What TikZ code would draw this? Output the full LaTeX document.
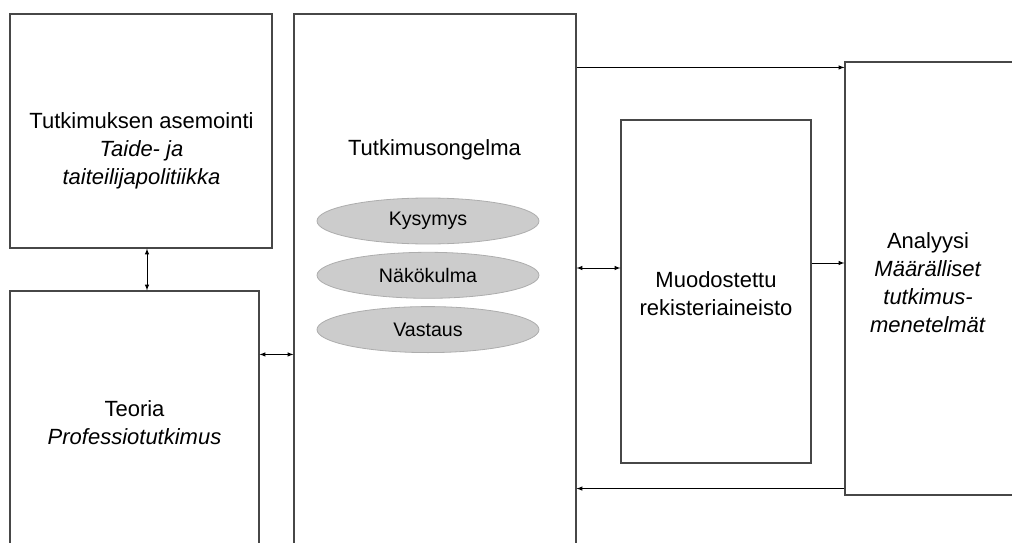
\documentclass[tikz,border=0pt]{standalone}
\usepackage{fontspec}
\setmainfont{Liberation Sans}
\usetikzlibrary{arrows}
\usetikzlibrary{positioning}
\usetikzlibrary{shapes.geometric}

\tikzset{
  laatikko/.style={draw=black!72, line width=1.1pt, inner sep=0pt},
  kohta/.style={ellipse, draw=black!32, fill=black!20, line width=0.8pt, inner sep=0pt,
    minimum width=222pt, minimum height=46pt, font=\fontsize{19.6}{22}\selectfont},
  teksti/.style={align=center, inner sep=0pt, font=\fontsize{22}{28}\selectfont},
  nuoli/.style={line width=1pt, black}
}

\begin{document}
\begin{tikzpicture}[x=1pt, y=-1pt, >=latex]
    \useasboundingbox (0,0) rectangle (1012,543);
    \clip (0,0) rectangle (1012,543);

    \node (asemointi) [laatikko, minimum width=262pt, minimum height=234pt] at (141,131) {};
    \node (teoria) [laatikko, minimum width=249pt, minimum height=279pt] at (134.5,430.5) {};
    \node (ongelma) [laatikko, minimum width=282pt, minimum height=556pt] at (435,292) {};
    \node (aineisto) [laatikko, minimum width=190pt, minimum height=343pt] at (716,291.5) {};
    \node (analyysi) [laatikko, minimum width=175pt, minimum height=433pt] at (932.5,278.5) {};

    \node (asemointiT) [teksti] at (141.5,151) {Tutkimuksen asemointi\\\textit{Taide- ja}\\\textit{taiteilijapolitiikka}};
    \node (teoriaT) [teksti] at (134.5,423) {Teoria\\\textit{Professiotutkimus}};
    \node (ongelmaT) [teksti] at (434.5,150) {Tutkimusongelma};
    \node (aineistoT) [teksti] at (716,294) {Muodostettu\\rekisteriaineisto};
    \node (analyysiT) [teksti] at (928,283) {Analyysi\\\textit{Määrälliset}\\\textit{tutkimus-}\\\textit{menetelmät}};

    \node (kysymys) [kohta] at (428,221) {Kysymys};
    \node (nakokulma) [kohta, below = 7.5pt of kysymys] {Näkökulma};
    \node (vastaus) [kohta, below = 7.5pt of nakokulma] {Vastaus};

    \draw [nuoli, <->] ([xshift=6pt]asemointi.south) -- ([xshift=6pt]asemointi.south |- teoria.north);
    \draw [nuoli, <->] ([yshift=-64pt]teoria.north east) -- ([yshift=-64pt]teoria.north east -| ongelma.west);
    \draw [nuoli, ->] ([yshift=-6pt]analyysi.north west -| ongelma.east) -- ([yshift=-6pt]analyysi.north west);
    \draw [nuoli, <->] ([yshift=23.5pt]aineisto.west -| ongelma.east) -- ([yshift=23.5pt]aineisto.west);
    \draw [nuoli, ->] ([yshift=28.5pt]aineisto.east) -- ([yshift=28.5pt]aineisto.east -| analyysi.west);
    \draw [nuoli, ->] ([yshift=7pt]analyysi.south west) -- ([yshift=7pt]analyysi.south west -| ongelma.east);
\end{tikzpicture}
\end{document}
